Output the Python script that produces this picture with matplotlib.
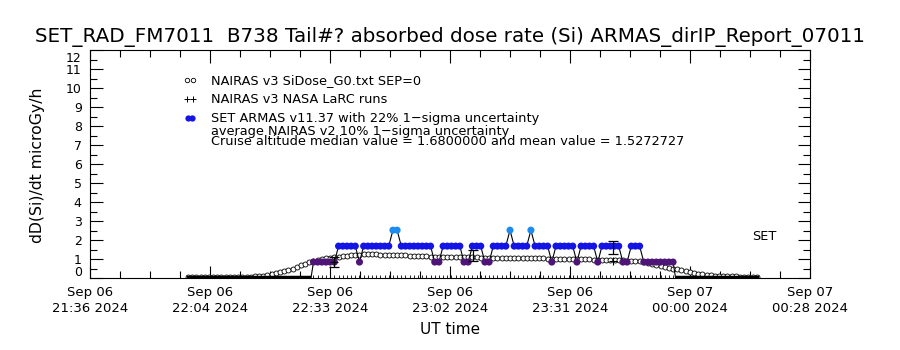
"""ARMAS vs NAIRAS absorbed dose rate (Si) for flight FM7011."""

import matplotlib
matplotlib.use("Agg")
import matplotlib.pyplot as plt
import matplotlib.transforms as mtransforms
import numpy as np

# time axis in minutes after 2024-09-06 21:00 UT
T_START = 36.55
T_STEP = 28.7
TICK_LABELS = ["Sep 06\n21:36 2024", "Sep 06\n22:04 2024", "Sep 06\n22:33 2024",
               "Sep 06\n23:02 2024", "Sep 06\n23:31 2024", "Sep 07\n00:00 2024",
               "Sep 07\n00:28 2024"]

# NAIRAS v3 SiDose_G0 profile, one value per minute from t=60 to t=196
NAIRAS_T0 = 60
NAIRAS = [
    0.05, 0.05, 0.05, 0.05, 0.05, 0.05, 0.05, 0.05, 0.05, 0.05, 0.05, 0.05, 0.05, 0.05, 0.05, 0.05,
    0.08, 0.10, 0.13, 0.16, 0.20, 0.25, 0.30, 0.36, 0.42, 0.50, 0.58, 0.66, 0.74, 0.82, 0.90,
    0.95, 1.00, 1.04, 1.07, 1.10, 1.12, 1.15, 1.17, 1.19, 1.20,
    1.22, 1.24, 1.25, 1.25, 1.24, 1.23, 1.22, 1.22, 1.21, 1.20, 1.20, 1.19, 1.18, 1.17, 1.16,
    1.15, 1.14, 1.13,
    1.12, 1.12, 1.11, 1.11, 1.10, 1.10, 1.09, 1.09, 1.08, 1.08, 1.08, 1.07, 1.07, 1.07, 1.06,
    1.06, 1.06, 1.05, 1.05, 1.05, 1.04, 1.04, 1.04, 1.03, 1.03, 1.03, 1.03, 1.02, 1.02, 1.02,
    1.02, 1.02,
    1.00, 1.00, 0.99, 0.99, 0.98, 0.98, 0.97, 0.97, 0.96, 0.96, 0.95, 0.95, 0.94, 0.93, 0.92,
    0.92, 0.91, 0.90,
    0.85, 0.80, 0.75, 0.70, 0.65, 0.60, 0.55, 0.50, 0.45, 0.40, 0.35, 0.30, 0.26, 0.22, 0.19,
    0.16, 0.14, 0.12,
    0.10, 0.10, 0.09, 0.08, 0.08, 0.07, 0.07, 0.06, 0.06, 0.05,
]

# SET ARMAS readings, one per minute from t=90 (cruise part), zeros on ground
ARMAS_T0 = 90
ARMAS = [
    0.84, 0.84, 0.84, 0.84, 0.84, 0.84, 1.68, 1.68, 1.68, 1.68, 1.68, 0.84,
    1.68, 1.68, 1.68, 1.68, 1.68, 1.68, 1.68, 2.52, 2.52,
    1.68, 1.68, 1.68, 1.68, 1.68, 1.68, 1.68, 1.68, 0.84, 0.84,
    1.68, 1.68, 1.68, 1.68, 1.68, 0.84, 0.84, 1.68, 1.68, 1.68, 0.84, 0.84,
    1.68, 1.68, 1.68, 1.68, 2.52, 1.68, 1.68, 1.68, 1.68, 2.52,
    1.68, 1.68, 1.68, 1.68, 0.84, 1.68, 1.68, 1.68, 1.68, 1.68, 0.84,
    1.68, 1.68, 1.68, 1.68, 0.84, 1.68, 1.68, 1.68, 1.68, 1.68, 0.84, 0.84,
    1.68, 1.68, 1.68, 0.84, 0.84, 0.84, 0.84, 0.84, 0.84, 0.84, 0.84,
]
ARMAS_ZERO_BEFORE = (60, 89)
ARMAS_ZERO_AFTER = (177, 196)

# averaged values with 1-sigma bars
ERR_T = [94.8, 128.2, 161.7]
ERR_Y = [0.84, 1.19, 1.61]
ERR_E = [0.26, 0.28, 0.35]
LARC_T = [94.8, 161.7]
LARC_Y = [0.85, 0.89]

COL_LOW = "#4e1478"
COL_MID = "#1414e6"
COL_HIGH = "#1c8cf0"

plt.rcParams["font.family"] = "DejaVu Sans"

fig = plt.figure(figsize=(9, 3.5), dpi=100)
ax = fig.add_axes([0.1, 0.2057, 0.8, 0.651])

# NAIRAS model curve
nt = NAIRAS_T0 + np.arange(len(NAIRAS))
ax.plot(nt, NAIRAS, "-", color="black", lw=0.6, marker="o", ms=3.6,
        mfc="white", mec="black", mew=0.6, zorder=2)

# ARMAS ground readings and cruise data
g1 = np.arange(ARMAS_ZERO_BEFORE[0], ARMAS_ZERO_BEFORE[1] + 1)
g2 = np.arange(ARMAS_ZERO_AFTER[0], ARMAS_ZERO_AFTER[1] + 1)
ax.plot(g1, np.zeros(len(g1)) + 0.03, color="black", lw=2.5, zorder=3)
ax.plot(g2, np.zeros(len(g2)) + 0.03, color="black", lw=2.5, zorder=3)
at = ARMAS_T0 + np.arange(len(ARMAS))
line_t = np.concatenate([[ARMAS_T0 - 0.6], at, [at[-1] + 0.6]])
line_y = np.concatenate([[0.0], ARMAS, [0.0]])
ax.plot(line_t, line_y, color="black", lw=0.8, zorder=3)
armas = np.array(ARMAS)
cols = np.where(armas < 1.0, COL_LOW, np.where(armas < 2.0, COL_MID, COL_HIGH))
ax.scatter(at, armas, s=26, c=list(cols), edgecolors="none", zorder=4)

# LaRC runs at ground level and averages
zt = np.arange(ARMAS_T0, ARMAS_ZERO_AFTER[0])
ax.plot(zt, np.zeros(len(zt)), "+", color="black", ms=4, mew=0.6, zorder=3)
ax.plot(LARC_T, LARC_Y, "+", color="black", ms=6, mew=0.8, zorder=5)
ax.errorbar(ERR_T, ERR_Y, yerr=ERR_E, fmt="none", ecolor="black",
            elinewidth=0.9, capsize=3.5, capthick=0.9, zorder=5)

# axes
ax.set_xlim(T_START, T_START + 6 * T_STEP)
ax.set_ylim(0, 12)
ax.set_xticks([T_START + i * T_STEP for i in range(len(TICK_LABELS))])
ax.set_xticklabels(TICK_LABELS, fontsize=9.5, linespacing=1.25)
ax.set_xticks([T_START + i * T_STEP / 4 for i in range(25)], minor=True)
ax.set_yticks(range(13))
ax.set_yticklabels([str(v) for v in range(13)], fontsize=9)
ax.set_yticks(np.arange(0, 12.01, 0.5), minor=True)
ax.tick_params(which="both", direction="in", top=True, right=True, width=0.8)
ax.tick_params(which="major", length=9, pad=6)
ax.tick_params(which="minor", length=5)
# end labels are nudged inside the axis range, as in the original
ylabs = ax.get_yticklabels()
up = mtransforms.ScaledTranslation(0, 5 / 72, fig.dpi_scale_trans)
down = mtransforms.ScaledTranslation(0, -5 / 72, fig.dpi_scale_trans)
ylabs[0].set_transform(ylabs[0].get_transform() + up)
ylabs[-1].set_transform(ylabs[-1].get_transform() + down)
for s in ax.spines.values():
    s.set_linewidth(0.8)

ax.set_xlabel("UT time", fontsize=11, labelpad=5)
ax.set_ylabel("dD(Si)/dt microGy/h", fontsize=11.3)
ax.yaxis.set_label_coords(-0.0625, 0.496)
fig.text(0.5, 0.894, "SET_RAD_FM7011  B738 Tail#? absorbed dose rate (Si) ARMAS_dirIP_Report_07011",
         ha="center", va="center", fontsize=14.3)

# legend block
tx = 0.168
sx = 0.139
fs = 9.3
ax.plot([sx - 0.004, sx + 0.004], [0.868, 0.868], "o", ms=3.2, mfc="white",
        mec="black", mew=0.6, transform=ax.transAxes, clip_on=False)
ax.plot([sx - 0.004, sx + 0.004], [0.785, 0.785], "+", ms=5, mew=0.7,
        color="black", transform=ax.transAxes, clip_on=False)
ax.plot([sx - 0.003, sx + 0.003], [0.702, 0.702], "o", ms=4.5, mec="none",
        color=COL_MID, transform=ax.transAxes, clip_on=False)
ax.text(tx, 0.868, "NAIRAS v3 SiDose_G0.txt SEP=0", transform=ax.transAxes,
        va="center", fontsize=fs)
ax.text(tx, 0.785, "NAIRAS v3 NASA LaRC runs", transform=ax.transAxes,
        va="center", fontsize=fs)
ax.text(tx, 0.702, "SET ARMAS v11.37 with 22% 1\u2212sigma uncertainty",
        transform=ax.transAxes, va="center", fontsize=fs)
ax.text(tx, 0.645, "average NAIRAS v2 10% 1\u2212sigma uncertainty",
        transform=ax.transAxes, va="center", fontsize=fs)
ax.text(tx, 0.601, "Cruise altitude median value = 1.6800000 and mean value = 1.5272727",
        transform=ax.transAxes, va="center", fontsize=fs)
ax.text(0.919, 0.18, "SET", transform=ax.transAxes, va="center", fontsize=9.3)

fig.savefig("out.png", dpi=100)
